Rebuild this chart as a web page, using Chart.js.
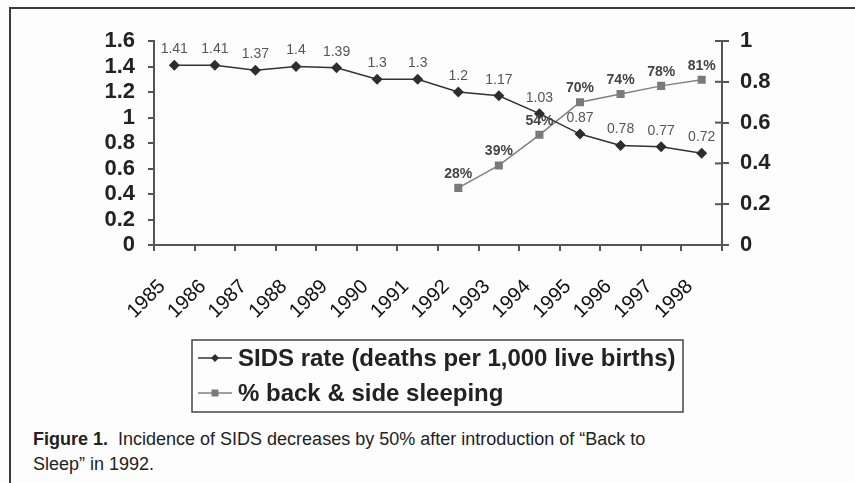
<!DOCTYPE html>
<html>
<head>
<meta charset="utf-8">
<script src="https://cdn.jsdelivr.net/npm/chart.js@4.4.1/dist/chart.umd.min.js"></script>
<style>
  body { margin: 0; background: #fdfdfd; }
  #wrap { position: relative; width: 855px; height: 483px; overflow: hidden; }
  #frame { position: absolute; left: 9px; top: 7px; width: 900px; height: 474px;
           border-left: 2px solid #3a3a3a; border-top: 2px solid #3a3a3a; }
  canvas { position: absolute; left: 0; top: 0; }
  #caption { position: absolute; left: 33px; top: 427px; width: 700px;
             font-family: Arial, "Liberation Sans", sans-serif; font-size: 18px;
             line-height: 25px; color: #222; }
</style>
</head>
<body>
<div id="wrap">
  <div id="frame"></div>
  <canvas id="chart" width="855" height="420"></canvas>
  <div id="caption"><b>Figure 1.</b>&nbsp; Incidence of SIDS decreases by 50% after introduction of “Back to<br>Sleep” in 1992.</div>
</div>
<script>
// 데이터
const years = ['1985', '1986', '1987', '1988', '1989', '1990', '1991', '1992', '1993', '1994', '1995', '1996', '1997', '1998'];
const sidsRate = [1.41, 1.41, 1.37, 1.4, 1.39, 1.3, 1.3, 1.2, 1.17, 1.03, 0.87, 0.78, 0.77, 0.72];
const backSleeping = [null, null, null, null, null, null, null, 0.28, 0.39, 0.54, 0.70, 0.74, 0.78, 0.81];
const seriesNames = ['SIDS rate (deaths per 1,000 live births)', '% back & side sleeping'];

const FONT = 'Arial, "Liberation Sans", sans-serif';

// 점 위에 값 표시
const valueLabels = {
  id: 'valueLabels',
  afterDatasetsDraw(chart) {
    const ctx = chart.ctx;
    ctx.save();
    ctx.textAlign = 'center';
    ctx.textBaseline = 'middle';
    chart.data.datasets.forEach((ds, i) => {
      const meta = chart.getDatasetMeta(i);
      meta.data.forEach((pt, j) => {
        const v = ds.data[j];
        if (v == null) return;
        if (i === 0) {
          ctx.font = '14px ' + FONT;
          ctx.fillStyle = '#555';
          ctx.fillText(String(v), pt.x, pt.y - 16);
        } else {
          ctx.font = 'bold 14px ' + FONT;
          ctx.fillStyle = '#444';
          ctx.fillText(Math.round(v * 100) + '%', pt.x, pt.y - 14);
        }
      });
    });
    ctx.restore();
  }
};

// 오른쪽 축 눈금을 안쪽으로도 그리기 + 범례 상자
const extras = {
  id: 'extras',
  afterDraw(chart) {
    const ctx = chart.ctx;
    const y1 = chart.scales.y1;
    ctx.save();
    ctx.strokeStyle = '#555';
    ctx.lineWidth = 2;
    y1.ticks.forEach(t => {
      const py = y1.getPixelForValue(t.value);
      ctx.beginPath();
      ctx.moveTo(y1.left - 7, py);
      ctx.lineTo(y1.left, py);
      ctx.stroke();
    });

    // 범례
    const box = { x: 192, y: 340, w: 491, h: 72 };
    ctx.lineWidth = 1.5;
    ctx.strokeStyle = '#444';
    ctx.strokeRect(box.x, box.y, box.w, box.h);
    ctx.font = 'bold 24px ' + FONT;
    ctx.textBaseline = 'middle';
    ctx.textAlign = 'left';
    chart.data.datasets.forEach((ds, i) => {
      const cy = box.y + 18 + i * 35;
      ctx.strokeStyle = ds.borderColor;
      ctx.lineWidth = 1.5;
      ctx.beginPath();
      ctx.moveTo(box.x + 6, cy);
      ctx.lineTo(box.x + 40, cy);
      ctx.stroke();
      ctx.fillStyle = ds.pointBackgroundColor;
      const cx = box.x + 23;
      ctx.beginPath();
      if (ds.pointStyle === 'rectRot') {
        ctx.moveTo(cx, cy - 4); ctx.lineTo(cx + 4, cy); ctx.lineTo(cx, cy + 4); ctx.lineTo(cx - 4, cy);
      } else {
        ctx.rect(cx - 3.5, cy - 3.5, 7, 7);
      }
      ctx.closePath();
      ctx.fill();
      ctx.fillStyle = '#222';
      ctx.fillText(ds.label, box.x + 46, cy + 1);
    });
    ctx.restore();
  }
};

new Chart(document.getElementById('chart'), {
  type: 'line',
  data: {
    labels: years,
    datasets: [
      {
        label: seriesNames[0],
        data: sidsRate,
        yAxisID: 'y',
        borderColor: '#333',
        borderWidth: 1.5,
        pointStyle: 'rectRot',
        pointRadius: 5.5,
        pointBackgroundColor: '#2e2e2e',
        pointBorderWidth: 0,
      },
      {
        label: seriesNames[1],
        data: backSleeping,
        yAxisID: 'y1',
        borderColor: '#808080',
        borderWidth: 1.5,
        pointStyle: 'rect',
        pointRadius: 5.7,
        pointBackgroundColor: '#7a7a7a',
        pointBorderWidth: 0,
      }
    ]
  },
  options: {
    responsive: false,
    animation: false,
    devicePixelRatio: 1,
    layout: { padding: { top: 41, left: 0, right: 0, bottom: 100 } },
    plugins: {
      legend: { display: false },
      tooltip: { enabled: false },
    },
    scales: {
      x: {
        type: 'category',
        offset: true,
        grid: { offset: true, drawOnChartArea: false, tickLength: 6, color: '#555', lineWidth: 2 },
        border: { color: '#555', width: 2 },
        ticks: {
          minRotation: 45,
          maxRotation: 45,
          autoSkip: false,
          padding: 24,
          labelOffset: -12,
          color: '#111',
          font: { family: FONT, size: 20 },
        },
        afterFit(scale) { scale.height = 75; },
      },
      y: {
        position: 'left',
        min: 0,
        max: 1.6,
        grid: { drawOnChartArea: false, tickLength: 6, color: '#555', lineWidth: 2 },
        border: { color: '#555', width: 2 },
        ticks: {
          stepSize: 0.2,
          autoSkip: false,
          padding: 13,
          color: '#222',
          font: { family: FONT, size: 22, weight: 'bold' },
          callback: v => String(+v.toFixed(1)),
        },
        afterFit(scale) { scale.width = 154; },
      },
      y1: {
        position: 'right',
        min: 0,
        max: 1,
        grid: { drawOnChartArea: false, tickLength: 7, color: '#555', lineWidth: 2 },
        border: { color: '#555', width: 2 },
        ticks: {
          stepSize: 0.2,
          autoSkip: false,
          padding: 11,
          color: '#222',
          font: { family: FONT, size: 22, weight: 'bold' },
          callback: v => String(+v.toFixed(1)),
        },
        afterFit(scale) { scale.width = 133; },
      },
    },
  },
  plugins: [valueLabels, extras],
});
</script>
</body>
</html>
